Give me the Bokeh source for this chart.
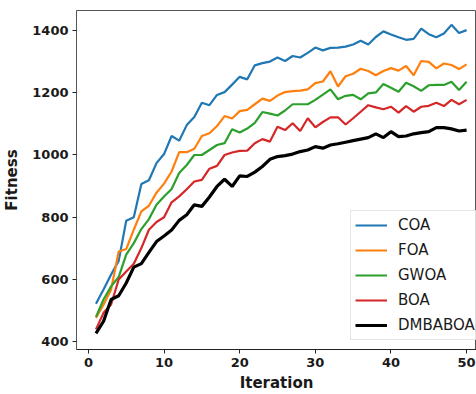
from bokeh.plotting import figure
from bokeh.models import Range1d, SingleIntervalTicker, Legend, LegendItem
from bokeh.embed import file_html
from bokeh.resources import INLINE

iterations = list(range(1, 51))

coa = [522, 568, 616, 660, 789, 800, 907, 919, 974, 1003, 1061, 1046, 1096, 1122, 1168, 1160, 1193, 1202, 1226, 1251,
       1243, 1288, 1295, 1300, 1313, 1302, 1318, 1313, 1328, 1345, 1336, 1344, 1345, 1348, 1355, 1367, 1355, 1379, 1397, 1387,
       1378, 1370, 1373, 1406, 1388, 1378, 1390, 1418, 1392, 1401]
foa = [477, 519, 568, 690, 698, 760, 819, 837, 879, 908, 947, 1009, 1009, 1020, 1061, 1070, 1093, 1125, 1117, 1141,
       1145, 1163, 1181, 1174, 1191, 1202, 1205, 1207, 1211, 1231, 1236, 1269, 1220, 1253, 1261, 1277, 1270, 1256, 1270, 1279,
       1271, 1286, 1256, 1302, 1299, 1278, 1294, 1289, 1276, 1291]
gwoa = [480, 536, 578, 608, 680, 717, 762, 794, 840, 867, 891, 942, 968, 1000, 1000, 1016, 1032, 1038, 1083, 1072,
        1085, 1103, 1138, 1133, 1127, 1143, 1163, 1163, 1163, 1177, 1194, 1211, 1179, 1190, 1193, 1179, 1198, 1201, 1228, 1216,
        1203, 1232, 1221, 1206, 1224, 1225, 1225, 1235, 1209, 1235]
boa = [440, 493, 520, 600, 626, 651, 701, 760, 785, 800, 848, 867, 890, 915, 920, 956, 965, 1000, 1008, 1013,
       1014, 1038, 1051, 1043, 1091, 1080, 1102, 1077, 1118, 1089, 1106, 1121, 1121, 1098, 1118, 1139, 1160, 1153, 1147, 1155,
       1136, 1157, 1139, 1155, 1158, 1168, 1157, 1177, 1163, 1177]
dmbaboa = [427, 466, 536, 548, 589, 640, 651, 687, 722, 740, 759, 790, 808, 840, 835, 865, 899, 922, 899, 933,
           931, 945, 963, 986, 995, 998, 1003, 1011, 1016, 1027, 1022, 1032, 1036, 1041, 1046, 1051, 1056, 1068, 1056, 1075,
           1059, 1061, 1068, 1072, 1075, 1088, 1088, 1084, 1077, 1080]

series_names = ["COA", "FOA", "GWOA", "BOA", "DMBABOA"]
series_values = [coa, foa, gwoa, boa, dmbaboa]
colors = ["#1f77b4", "#ff7f0e", "#2ca02c", "#d62728", "#000000"]
widths = [2.2, 2.2, 2.2, 2.2, 3.2]

p = figure(width=476, height=394, output_backend="svg", toolbar_location=None,
           x_range=Range1d(-1.575, 51.31), y_range=Range1d(375.3, 1464.1),
           min_border_left=73, min_border_right=0, min_border_top=10, min_border_bottom=44)

p.background_fill_color = "white"
p.border_fill_color = "white"
p.outline_line_color = "#555555"
p.outline_line_width = 1
p.xgrid.grid_line_color = None
p.ygrid.grid_line_color = None

p.xaxis.ticker = SingleIntervalTicker(interval=10)
p.yaxis.ticker = SingleIntervalTicker(interval=200)

for ax in (p.xaxis, p.yaxis):
    ax.minor_tick_line_color = None
    ax.major_tick_in = 0
    ax.major_tick_out = 4
    ax.major_label_standoff = 4
    ax.major_label_text_font = "DejaVu Sans"
    ax.major_label_text_font_style = "bold"
    ax.major_label_text_font_size = "13px"
    ax.major_label_text_color = "#1a1a1a"
    ax.axis_label_text_font = "DejaVu Sans"
    ax.axis_label_text_font_style = "bold"
    ax.axis_label_text_font_size = "15px"
    ax.axis_label_text_color = "#1a1a1a"
    ax.axis_line_color = "#222222"
    ax.major_tick_line_color = "#222222"

p.xaxis.axis_label_standoff = 4
p.yaxis.axis_label_standoff = 8
p.xaxis.axis_label = "Iteration"
p.yaxis.axis_label = "Fitness"
p.yaxis.axis_line_color = "#555555"

items = []
for name, vals, c, w in zip(series_names, series_values, colors, widths):
    r = p.line(iterations, vals, line_color=c, line_width=w)
    items.append(LegendItem(label=name, renderers=[r]))

legend = Legend(items=items, location=(274, 9), margin=0, padding=4,
                glyph_width=32, glyph_height=20, label_height=20,
                label_standoff=11, spacing=5,
                label_text_font="DejaVu Sans", label_text_font_size="15px",
                label_text_color="#1a1a1a",
                border_line_color="#cccccc", border_line_width=1,
                background_fill_color="white", background_fill_alpha=0.8)
p.add_layout(legend, "center")

open("out.html", "w").write(file_html(p, INLINE))
